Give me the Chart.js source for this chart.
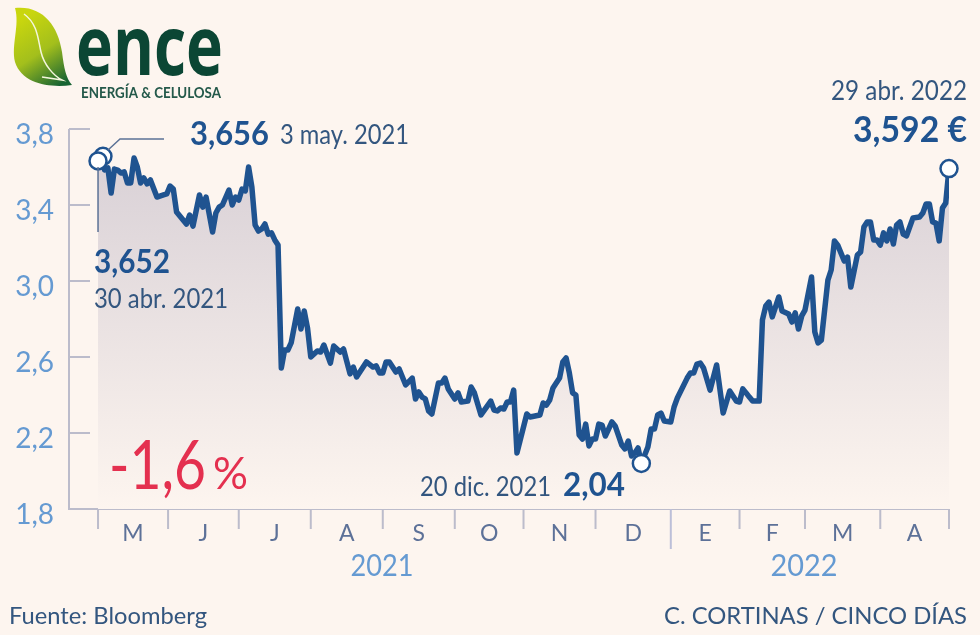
<!DOCTYPE html>
<html lang="es">
<head>
<meta charset="utf-8">
<title>Ence</title>
<script src="https://cdn.jsdelivr.net/npm/chart.js@4"></script>
<style>
  html, body { margin: 0; padding: 0; background: #fdf5ef; }
  #wrap { position: relative; width: 980px; height: 635px; overflow: hidden; }
</style>
</head>
<body>
<div id="wrap"><canvas id="enceChart"></canvas></div>
<script>
/* ================= DATA ================= */

// [trading session since 30 abr. 2021, price in euros]
const prices = [
  [0,3.632],[1.5,3.656],[2,3.584],[3,3.595],[4,3.463],[5,3.589],[6,3.584],[7,3.568],[8,3.574],[9,3.516],
  [10,3.516],[11,3.647],[12,3.6],[13,3.516],[14,3.542],[15,3.511],[16,3.532],[18,3.442],[20,3.453],[21,3.458],
  [22,3.5],[23,3.484],[24,3.363],[25,3.342],[27,3.3],[28,3.347],[29,3.289],[31,3.453],[32,3.389],[33,3.442],
  [35,3.258],[36,3.358],[37,3.389],[38,3.4],[40,3.479],[41,3.4],[42,3.442],[43,3.426],[44,3.484],[45,3.474],
  [46,3.6],[47,3.495],[48,3.295],[49,3.263],[50,3.274],[51,3.3],[52,3.247],[53,3.253],[54,3.216],[55,3.189],
  [56,2.542],[57,2.637],[58,2.637],[59,2.674],[61,2.853],[62,2.747],[63,2.842],[64,2.753],[65,2.6],[67,2.632],
  [68,2.626],[69,2.663],[71,2.568],[72,2.658],[74,2.626],[75,2.642],[77,2.511],[78,2.547],[79,2.495],[82,2.574],
  [84,2.547],[85,2.553],[86,2.516],[87,2.516],[88,2.574],[89,2.574],[91,2.521],[92,2.537],[94,2.453],[96,2.489],
  [97,2.379],[98,2.416],[99,2.389],[100,2.379],[101,2.316],[102,2.3],[104,2.463],[105,2.463],[106,2.489],[107,2.432],
  [109,2.379],[110,2.411],[111,2.363],[113,2.368],[114,2.442],[115,2.411],[117,2.295],[120,2.368],[121,2.321],[122,2.316],
  [123,2.332],[124,2.326],[125,2.363],[126,2.363],[127,2.426],[128,2.095],[131,2.3],[132,2.284],[135,2.295],[136,2.358],
  [137,2.347],[138,2.374],[139,2.437],[141,2.489],[142,2.574],[143,2.595],[144,2.516],[145,2.411],[146,2.4],[147,2.189],
  [148,2.168],[149,2.247],[150,2.132],[151,2.168],[152,2.168],[153,2.247],[154,2.242],[155,2.184],[157,2.258],[158,2.237],
  [160,2.137],[161,2.116],[162,2.158],[163,2.079],[164,2.095],[165,2.121],[166,2.04],[168,2.126],[169,2.221],[170,2.221],
  [171,2.295],[172,2.305],[173,2.263],[175,2.258],[176,2.337],[177,2.384],[180,2.489],[181,2.516],[182,2.516],[183,2.563],
  [184,2.568],[185,2.542],[187,2.426],[189,2.558],[191,2.305],[193,2.421],[195,2.368],[196,2.363],[197,2.432],[198,2.411],
  [199,2.389],[200,2.368],[202,2.368],[203,2.795],[204,2.868],[205,2.889],[206,2.811],[208,2.916],[209,2.842],[211,2.826],
  [212,2.784],[213,2.832],[214,2.747],[215,2.816],[216,2.847],[218,3.021],[219,2.732],[220,2.674],[221,2.689],[223,3.005],
  [224,3.058],[225,3.211],[226,3.189],[228,3.105],[229,3.126],[230,2.968],[232,3.137],[233,3.153],[234,3.284],[235,3.311],
  [236,3.311],[237,3.216],[238,3.216],[239,3.189],[240,3.253],[241,3.211],[242,3.274],[243,3.195],[244,3.295],[245,3.311],
  [246,3.247],[247,3.237],[249,3.332],[251,3.337],[252,3.358],[253,3.405],[254,3.405],[255,3.311],[256,3.305],[257,3.211],
  [258,3.384],[259,3.411],[260,3.592]
];

// first session of every month, the axis is in trading days
const monthStarts = [0, 21.4, 43, 65, 87, 109, 130, 152, 175, 196, 216, 239, 260];
const monthLabels = ["M", "J", "J", "A", "S", "O", "N", "D", "E", "F", "M", "A"];
const yearBreak = 175;

const markers = [[1.5, 3.656], [0, 3.632], [166, 2.04], [260, 3.592]];

const BLUE = "#1f5390";
const TEXT = "#33567f";
const AXIS = "#bcbccb";
const SKY = "#659ad2";
const BOLD = 'bold 32px "Lato"';
const REG = '26px "Lato"';

/* ================= OVERLAYS ================= */

function label(ctx, text, x, y, font, color, align, maxWidth) {
  ctx.font = font;
  ctx.fillStyle = color;
  ctx.textAlign = align || "left";
  ctx.textBaseline = "alphabetic";
  if (maxWidth) ctx.fillText(text, x, y, maxWidth);
  else ctx.fillText(text, x, y);
}

function drawLogo(ctx) {
  const leaf = ctx.createLinearGradient(20, 20, 62, 84);
  leaf.addColorStop(0, "#c9d60e");
  leaf.addColorStop(0.5, "#a3bf1c");
  leaf.addColorStop(1, "#176433");
  ctx.fillStyle = leaf;
  ctx.beginPath();
  ctx.moveTo(15, 8);
  ctx.bezierCurveTo(42, 5, 58, 25, 62, 52);
  ctx.bezierCurveTo(64, 68, 66, 78, 72, 85);
  ctx.bezierCurveTo(50, 88, 22, 84, 15, 62);
  ctx.bezierCurveTo(11, 45, 20, 25, 15, 8);
  ctx.fill();
  ctx.strokeStyle = "#f4f6dc";
  ctx.lineWidth = 1.5;
  ctx.beginPath();
  ctx.moveTo(24, 14);
  ctx.bezierCurveTo(38, 24, 38, 40, 41, 52);
  ctx.bezierCurveTo(44, 65, 54, 76, 62, 80);
  ctx.lineTo(42, 77);
  ctx.stroke();
  label(ctx, "ence", 76, 75, 'bold 82px "Open Sans"', "#0b4634", "left", 147);
  label(ctx, "ENERGÍA & CELULOSA", 81, 98, 'bold 16px "Lato"', "#24594a", "left", 140);
}

const overlayPlugin = {
  id: "overlay",
  // axes and month ticks, placed through the chart scales
  beforeDatasetsDraw(chart) {
    const { ctx, scales: { x, y } } = chart;
    const left = x.left;
    const bottom = y.getPixelForValue(1.8);
    ctx.save();
    ctx.strokeStyle = AXIS;
    ctx.lineWidth = 2;
    ctx.beginPath();
    ctx.moveTo(left, y.getPixelForValue(3.8));
    ctx.lineTo(left, bottom);
    ctx.lineTo(x.getPixelForValue(260), bottom);
    y.ticks.forEach((t) => {
      const py = y.getPixelForValue(t.value);
      ctx.moveTo(left, py);
      ctx.lineTo(left + 21, py);
    });
    monthStarts.forEach((m) => {
      if (m === yearBreak) return;
      const px = x.getPixelForValue(m);
      ctx.moveTo(px, bottom);
      ctx.lineTo(px, bottom + 20);
    });
    ctx.stroke();
    const bx = x.getPixelForValue(yearBreak);
    ctx.strokeStyle = "#bcbfd8";
    ctx.beginPath();
    ctx.moveTo(bx, y.getPixelForValue(2.258));
    ctx.lineTo(bx, bottom + 40);
    ctx.stroke();
    ctx.restore();
  },
  afterDatasetsDraw(chart) {
    const { ctx, scales: { x, y } } = chart;
    ctx.save();
    // leader lines of the two starting points
    ctx.strokeStyle = "#5b7296";
    ctx.lineWidth = 1.5;
    ctx.beginPath();
    ctx.moveTo(108, 150);
    ctx.lineTo(120, 139);
    ctx.lineTo(164, 139);
    ctx.moveTo(x.getPixelForValue(0), y.getPixelForValue(3.6));
    ctx.lineTo(x.getPixelForValue(0), 232);
    ctx.stroke();

    label(ctx, "3,656", 190, 145, BOLD, BLUE, "left", 79);
    label(ctx, "3 may. 2021", 280, 144, REG, TEXT, "left", 129);
    label(ctx, "3,652", 94, 273, BOLD, BLUE, "left", 76);
    label(ctx, "30 abr. 2021", 94, 308, REG, TEXT, "left", 134);
    label(ctx, "20 dic. 2021", 420, 496, REG, TEXT, "left", 131);
    label(ctx, "2,04", 563, 496, BOLD, BLUE, "left", 62);
    label(ctx, "29 abr. 2022", 967, 100, REG, TEXT, "right", 136);
    label(ctx, "3,592 €", 967, 142, 'bold 37px "Lato"', BLUE, "right", 114);
    label(ctx, "-1,6", 109, 489, '68px "Lato"', "#e4304f", "left", 97);
    label(ctx, "%", 213, 489, '44px "Lato"', "#e4304f", "left", 35);
    label(ctx, "2021", 382, 576, '30px "Lato"', SKY, "center", 63);
    label(ctx, "2022", 804, 576, '30px "Lato"', SKY, "center", 67);
    label(ctx, "Fuente: Bloomberg", 9, 624, '24px "Lato"', TEXT, "left", 198);
    label(ctx, "C. CORTINAS / CINCO DÍAS", 967, 624, '24px "Lato"', TEXT, "right", 303);
    drawLogo(ctx);
    ctx.restore();
  }
};

/* ================= CHART ================= */

const ctx = document.getElementById("enceChart").getContext("2d");

const enceChart = new Chart(ctx, {
  type: "line",
  data: {
    datasets: [
      {
        data: markers.map(([x, y]) => ({ x, y })),
        showLine: false,
        pointRadius: 8.5,
        pointBackgroundColor: "#ffffff",
        pointBorderColor: BLUE,
        pointBorderWidth: 2.5,
        order: 0,
        clip: false
      },
      {
        data: prices.map(([x, y]) => ({ x, y })),
        borderColor: BLUE,
        borderWidth: 5.5,
        borderJoinStyle: "round",
        borderCapStyle: "round",
        pointRadius: 0,
        tension: 0,
        fill: "start",
        backgroundColor: (c) => {
          const area = c.chart.chartArea;
          if (!area) return "#dcd5d8";
          const g = c.chart.ctx.createLinearGradient(0, 150, 0, area.bottom);
          g.addColorStop(0, "#d8d0d6");
          g.addColorStop(1, "#fdf5ef");
          return g;
        },
        order: 1
      }
    ]
  },
  options: {
    responsive: true,
    maintainAspectRatio: false,
    animation: false,
    layout: { padding: { top: 129, right: 31, left: 0, bottom: 0 } },
    plugins: { legend: { display: false }, tooltip: { enabled: false } },
    scales: {
      x: {
        type: "linear",
        min: -8.87,
        max: 260,
        afterFit: (s) => { s.height = 126; },
        afterBuildTicks: (s) => {
          s.ticks = monthLabels.map((_, i) => ({ value: (monthStarts[i] + monthStarts[i + 1]) / 2 }));
        },
        grid: { display: false },
        border: { display: false },
        ticks: {
          autoSkip: false,
          maxRotation: 0,
          padding: 3,
          color: "#5d7198",
          font: { family: "Lato", size: 23 },
          callback: (v, i) => monthLabels[i]
        }
      },
      y: {
        min: 1.8,
        max: 3.8,
        afterFit: (s) => { s.width = 69; },
        grid: { display: false },
        border: { display: false },
        ticks: {
          stepSize: 0.4,
          padding: 7,
          labelOffset: 6,
          color: SKY,
          font: { family: "Lato", size: 28 },
          callback: (v) => v.toFixed(1).replace(".", ",")
        }
      }
    }
  },
  plugins: [overlayPlugin]
});
</script>
</body>
</html>
